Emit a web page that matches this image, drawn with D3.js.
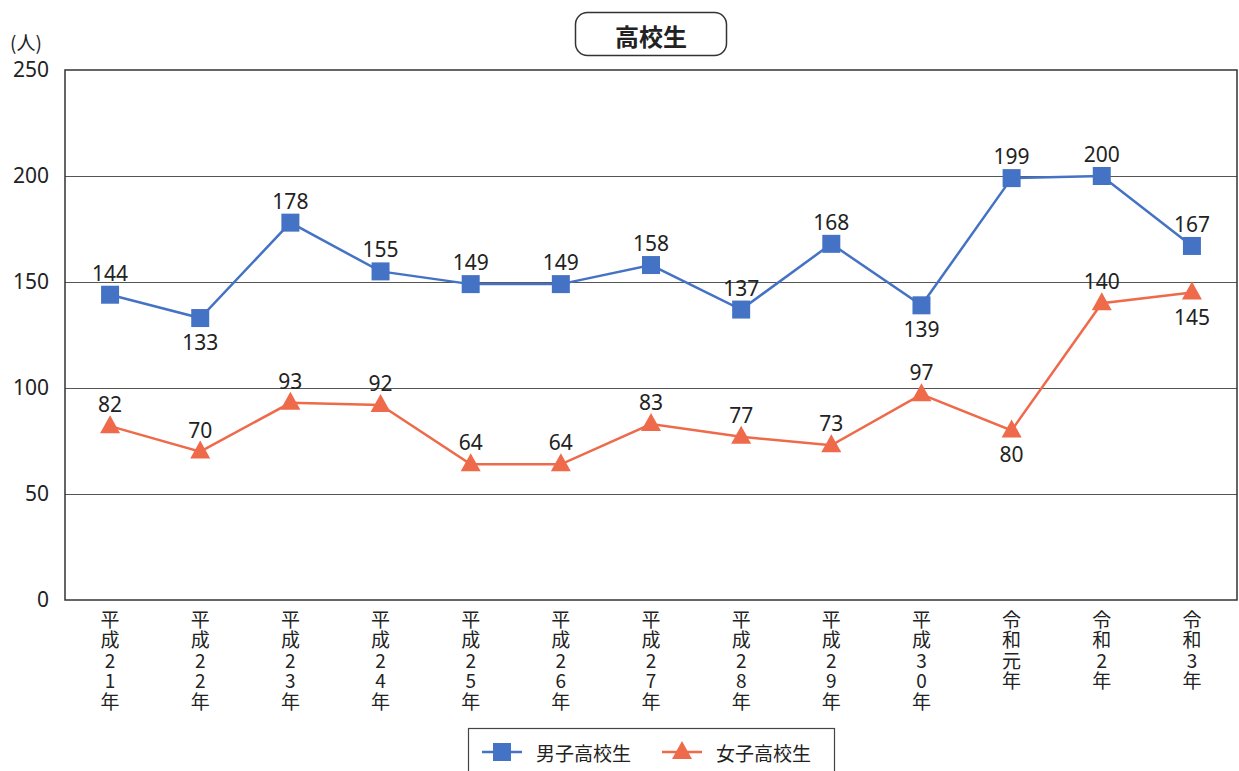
<!DOCTYPE html>
<html>
<head>
<meta charset="utf-8">
<script src="https://cdn.jsdelivr.net/npm/d3@7"></script>
<style>
  body { margin: 0; background: #fff; }
  text { font-family: "Noto Sans CJK JP", "Noto Sans", sans-serif; fill: #222; }
</style>
</head>
<body>
<div id="chart"></div>
<script>
const years = ["平成21年", "平成22年", "平成23年", "平成24年", "平成25年", "平成26年", "平成27年",
  "平成28年", "平成29年", "平成30年", "令和元年", "令和2年", "令和3年"];
const boys = [144, 133, 178, 155, 149, 149, 158, 137, 168, 139, 199, 200, 167];
const girls = [82, 70, 93, 92, 64, 64, 83, 77, 73, 97, 80, 140, 145];
// labels drawn under the point instead of above
const boysBelow = [1, 9];
const girlsBelow = [10, 12];
const yTicks = [0, 50, 100, 150, 200, 250];

const colors = { boys: "#4472c4", girls: "#ee6a4a", grid: "#555", axis: "#333" };

const width = 1239, height = 771;
const m = { left: 65, right: 1237, top: 70, bottom: 600 };

const svg = d3.select("#chart").append("svg")
  .attr("width", width).attr("height", height);

const x = d3.scaleBand().domain(years).range([m.left, m.right]);
const y = d3.scaleLinear().domain([0, 250]).range([m.bottom, m.top]);
const cx = (d, i) => x(years[i]) + x.bandwidth() / 2;

// title box
svg.append("rect").attr("x", 575.5).attr("y", 12.5).attr("width", 151).attr("height", 43)
  .attr("rx", 12).attr("fill", "#fff").attr("stroke", "#333").attr("stroke-width", 1.5);
svg.append("text").attr("x", 651).attr("y", 35).attr("text-anchor", "middle")
  .attr("dominant-baseline", "central").attr("font-size", 24).attr("font-weight", 700)
  .text("高校生");

// grid
svg.append("g").selectAll("line").data(yTicks.filter(d => d > 0 && d < 250)).join("line")
  .attr("x1", m.left).attr("x2", m.right)
  .attr("y1", d => Math.round(y(d)) + 0.5).attr("y2", d => Math.round(y(d)) + 0.5)
  .attr("stroke", colors.grid).attr("stroke-width", 1);

// frame
svg.append("rect").attr("x", m.left).attr("y", m.top)
  .attr("width", m.right - m.left).attr("height", m.bottom - m.top)
  .attr("fill", "none").attr("stroke", colors.axis).attr("stroke-width", 1.5);

// y axis labels
const yAxis = d3.axisLeft(y).tickValues(yTicks).tickSize(0).tickPadding(16);
const gy = svg.append("g").attr("transform", `translate(${m.left},0)`).call(yAxis);
gy.select(".domain").remove();
gy.selectAll("text").attr("font-size", 21).attr("fill", "#222")
  .style("font-family", "'Noto Sans', sans-serif");
svg.append("text").attr("x", 10).attr("y", 50).attr("font-size", 19).text("(人)");

// x labels, one text per character stacked vertically
const gx = svg.append("g");
years.forEach((yr, i) => {
  Array.from(yr).forEach((ch, j) => {
    gx.append("text").attr("x", cx(null, i)).attr("y", 618 + j * 20.5)
      .attr("text-anchor", "middle").attr("dominant-baseline", "central")
      .attr("font-size", 19).text(ch);
  });
});

const line = d3.line().x(cx).y(d => y(d));

function series(vals, color, marker, below, offUp, offDown) {
  const g = svg.append("g");
  g.append("path").datum(vals).attr("d", line)
    .attr("fill", "none").attr("stroke", color).attr("stroke-width", 2.5);
  g.selectAll(".mk").data(vals).join("path").attr("class", "mk")
    .attr("transform", (d, i) => `translate(${cx(d, i)},${y(d)})`)
    .attr("d", marker).attr("fill", color);
  g.selectAll(".lb").data(vals).join("text").attr("class", "lb")
    .attr("x", cx).attr("y", (d, i) => below.includes(i) ? y(d) + offDown : y(d) - offUp)
    .attr("text-anchor", "middle").attr("font-size", 21)
    .style("font-family", "'Noto Sans', sans-serif")
    .text(d => d);
}

const square = "M-9,-9H9V9H-9Z";
const tri = "M0,-11L10,7H-10Z";

series(boys, colors.boys, square, boysBelow, 14, 32);
series(girls, colors.girls, tri, girlsBelow, 14, 32);

// legend
const lg = svg.append("g");
lg.append("rect").attr("x", 468.5).attr("y", 728.5).attr("width", 366).attr("height", 60)
  .attr("fill", "#fff").attr("stroke", "#444").attr("stroke-width", 1.2);
lg.append("line").attr("x1", 482).attr("x2", 522).attr("y1", 752).attr("y2", 752)
  .attr("stroke", colors.boys).attr("stroke-width", 2.5);
lg.append("path").attr("transform", "translate(502,752)").attr("d", square).attr("fill", colors.boys);
lg.append("text").attr("x", 536).attr("y", 752).attr("dominant-baseline", "central")
  .attr("font-size", 19).text("男子高校生");
lg.append("line").attr("x1", 662).attr("x2", 702).attr("y1", 752).attr("y2", 752)
  .attr("stroke", colors.girls).attr("stroke-width", 2.5);
lg.append("path").attr("transform", "translate(682,752)").attr("d", tri).attr("fill", colors.girls);
lg.append("text").attr("x", 716).attr("y", 752).attr("dominant-baseline", "central")
  .attr("font-size", 19).text("女子高校生");
</script>
</body>
</html>
